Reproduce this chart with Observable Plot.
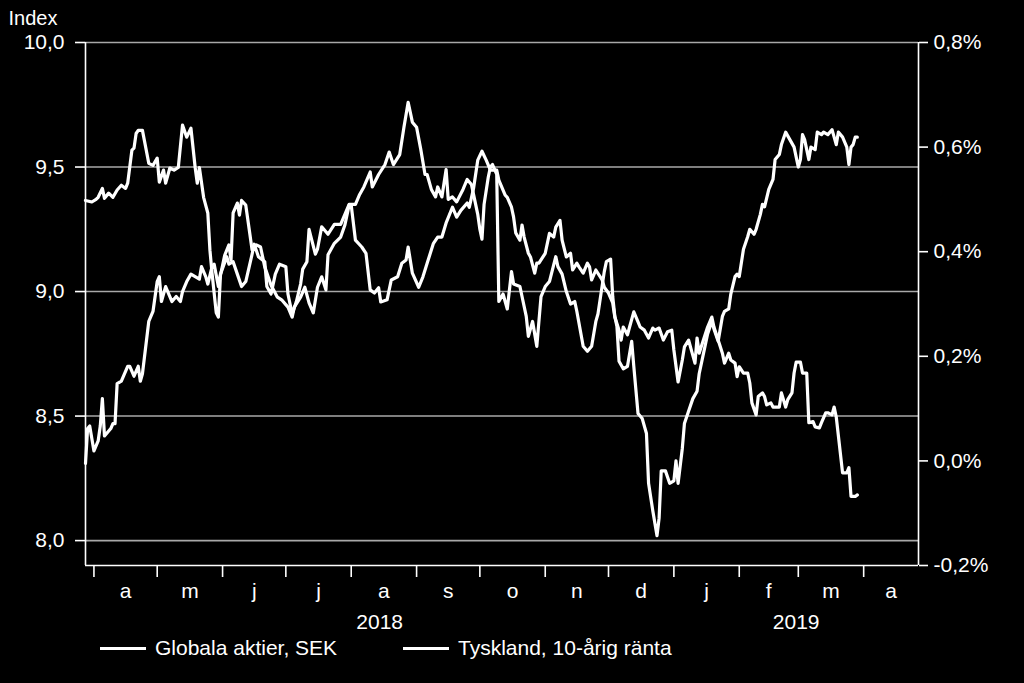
<!DOCTYPE html>
<html><head><meta charset="utf-8">
<script src="https://cdn.jsdelivr.net/npm/d3@7"></script>
<script src="https://cdn.jsdelivr.net/npm/@observablehq/plot@0.6"></script>
<style>
html,body{margin:0;padding:0;background:#000;}
body{width:1024px;height:683px;overflow:hidden;font-family:"Liberation Sans",Arial,sans-serif;color:#fff;}
#chart{position:relative;width:1024px;height:635px;}
#legend{position:relative;width:1024px;height:48px;}
.item{position:absolute;top:0;height:26px;display:flex;align-items:center;font-size:21px;white-space:nowrap;}
.swatch{display:inline-block;width:46px;height:3px;background:#fff;margin-right:9px;}
</style></head><body>
<div id="chart"></div>
<div id="legend"></div>
<script>
// ---- data ----
const seriesNames = ["Globala aktier, SEK", "Tyskland, 10-årig ränta"];
const leftTicks = [8.0, 8.5, 9.0, 9.5, 10.0];
const rightTicks = [-0.2, 0.0, 0.2, 0.4, 0.6, 0.8];
const monthTicks = ["2018-04-01","2018-05-01","2018-06-01","2018-07-01","2018-08-01","2018-09-01","2018-10-01","2018-11-01","2018-12-01","2019-01-01","2019-02-01","2019-03-01","2019-04-01"];
const monthLabels = ["a","m","j","j","a","s","o","n","d","j","f","m","a"];
const yearStarts = ["2018-03-28","2019-01-01"];
const yearLabels = ["2018","2019"];
const xStart = "2018-03-28", xEnd = "2019-04-27";

const eqDates = ["2018-03-28","2018-03-29","2018-03-30","2018-04-01","2018-04-03","2018-04-04","2018-04-05","2018-04-06","2018-04-09","2018-04-10","2018-04-11","2018-04-12","2018-04-14","2018-04-17","2018-04-18","2018-04-20","2018-04-22","2018-04-23","2018-04-24","2018-04-27","2018-04-29","2018-05-01","2018-05-02","2018-05-03","2018-05-05","2018-05-07","2018-05-08","2018-05-10","2018-05-12","2018-05-13","2018-05-15","2018-05-17","2018-05-19","2018-05-21","2018-05-22","2018-05-24","2018-05-25","2018-05-27","2018-05-28","2018-05-30","2018-05-31","2018-06-03","2018-06-04","2018-06-06","2018-06-08","2018-06-10","2018-06-12","2018-06-15","2018-06-16","2018-06-18","2018-06-21","2018-06-22","2018-06-24","2018-06-26","2018-06-28","2018-07-01","2018-07-02","2018-07-03","2018-07-04","2018-07-06","2018-07-08","2018-07-09","2018-07-11","2018-07-12","2018-07-15","2018-07-16","2018-07-18","2018-07-21","2018-07-24","2018-07-27","2018-07-29","2018-07-31","2018-08-03","2018-08-05","2018-08-07","2018-08-10","2018-08-11","2018-08-14","2018-08-17","2018-08-19","2018-08-21","2018-08-24","2018-08-26","2018-08-28","2018-08-30","2018-09-01","2018-09-03","2018-09-05","2018-09-06","2018-09-08","2018-09-10","2018-09-11","2018-09-13","2018-09-15","2018-09-16","2018-09-18","2018-09-20","2018-09-23","2018-09-25","2018-09-27","2018-09-28","2018-09-30","2018-10-01","2018-10-02","2018-10-03","2018-10-05","2018-10-06","2018-10-07","2018-10-09","2018-10-10","2018-10-12","2018-10-14","2018-10-16","2018-10-17","2018-10-20","2018-10-21","2018-10-23","2018-10-24","2018-10-26","2018-10-27","2018-10-28","2018-10-30","2018-11-01","2018-11-03","2018-11-06","2018-11-07","2018-11-09","2018-11-11","2018-11-13","2018-11-15","2018-11-16","2018-11-19","2018-11-21","2018-11-23","2018-11-25","2018-11-26","2018-11-29","2018-11-30","2018-12-02","2018-12-03","2018-12-04","2018-12-05","2018-12-06","2018-12-08","2018-12-10","2018-12-12","2018-12-13","2018-12-15","2018-12-17","2018-12-19","2018-12-20","2018-12-22","2018-12-24","2018-12-25","2018-12-26","2018-12-28","2018-12-30","2019-01-01","2019-01-02","2019-01-03","2019-01-05","2019-01-06","2019-01-08","2019-01-10","2019-01-12","2019-01-13","2019-01-15","2019-01-17","2019-01-19","2019-01-20","2019-01-22","2019-01-24","2019-01-25","2019-01-27","2019-01-28","2019-01-30","2019-01-31","2019-02-01","2019-02-03","2019-02-05","2019-02-06","2019-02-08","2019-02-09","2019-02-11","2019-02-12","2019-02-13","2019-02-15","2019-02-17","2019-02-18","2019-02-20","2019-02-21","2019-02-23","2019-02-25","2019-02-27","2019-03-01","2019-03-02","2019-03-03","2019-03-04","2019-03-06","2019-03-07","2019-03-09","2019-03-10","2019-03-12","2019-03-13","2019-03-15","2019-03-17","2019-03-18","2019-03-19","2019-03-20","2019-03-22","2019-03-24","2019-03-25","2019-03-26","2019-03-27","2019-03-28","2019-03-29"];
const eqValues = [8.31,8.45,8.46,8.36,8.40,8.46,8.57,8.42,8.45,8.47,8.47,8.63,8.64,8.70,8.70,8.66,8.70,8.64,8.67,8.88,8.92,9.04,9.06,8.96,9.02,8.98,8.96,8.98,8.96,9.00,9.04,9.07,9.06,9.05,9.10,9.06,9.03,9.10,9.11,9.02,9.07,9.14,9.11,9.12,9.07,9.02,9.04,9.15,9.19,9.14,9.12,9.02,8.99,9.07,9.11,9.10,8.99,8.95,8.91,8.96,9.03,9.09,9.12,9.25,9.15,9.17,9.26,9.23,9.27,9.27,9.31,9.35,9.35,9.39,9.42,9.48,9.42,9.47,9.51,9.56,9.51,9.55,9.66,9.76,9.68,9.66,9.57,9.47,9.47,9.41,9.38,9.42,9.38,9.49,9.37,9.38,9.36,9.41,9.45,9.43,9.39,9.31,9.25,9.21,9.35,9.46,9.50,9.51,9.47,8.96,8.99,8.93,9.08,9.03,9.02,8.98,8.90,8.82,8.88,8.83,8.78,8.98,9.02,9.04,9.14,9.10,9.07,9.00,8.95,8.96,8.92,8.78,8.76,8.78,8.88,8.91,9.08,9.12,9.13,8.98,8.90,8.86,8.72,8.69,8.70,8.80,8.70,8.51,8.49,8.43,8.23,8.12,8.02,8.09,8.28,8.28,8.23,8.24,8.32,8.23,8.37,8.47,8.52,8.57,8.60,8.67,8.75,8.83,8.88,8.85,8.80,8.90,8.92,8.93,8.99,9.06,9.07,9.06,9.17,9.22,9.25,9.23,9.25,9.31,9.35,9.34,9.41,9.45,9.53,9.55,9.59,9.64,9.61,9.58,9.50,9.53,9.63,9.61,9.53,9.58,9.57,9.64,9.63,9.64,9.63,9.65,9.62,9.59,9.64,9.62,9.58,9.51,9.58,9.59,9.62,9.62];

const bundDates = ["2018-03-28","2018-03-31","2018-04-02","2018-04-03","2018-04-05","2018-04-06","2018-04-08","2018-04-10","2018-04-12","2018-04-14","2018-04-16","2018-04-17","2018-04-19","2018-04-20","2018-04-21","2018-04-22","2018-04-24","2018-04-27","2018-04-29","2018-05-01","2018-05-02","2018-05-04","2018-05-05","2018-05-07","2018-05-09","2018-05-11","2018-05-13","2018-05-15","2018-05-17","2018-05-19","2018-05-20","2018-05-21","2018-05-23","2018-05-25","2018-05-26","2018-05-27","2018-05-29","2018-05-30","2018-05-31","2018-06-02","2018-06-04","2018-06-05","2018-06-06","2018-06-08","2018-06-09","2018-06-10","2018-06-12","2018-06-14","2018-06-15","2018-06-17","2018-06-19","2018-06-21","2018-06-24","2018-06-27","2018-06-29","2018-07-02","2018-07-04","2018-07-05","2018-07-08","2018-07-10","2018-07-12","2018-07-14","2018-07-16","2018-07-18","2018-07-20","2018-07-21","2018-07-24","2018-07-27","2018-07-29","2018-07-31","2018-08-01","2018-08-03","2018-08-06","2018-08-08","2018-08-10","2018-08-12","2018-08-14","2018-08-15","2018-08-18","2018-08-19","2018-08-20","2018-08-23","2018-08-25","2018-08-27","2018-08-28","2018-08-30","2018-09-02","2018-09-04","2018-09-06","2018-09-09","2018-09-11","2018-09-13","2018-09-15","2018-09-18","2018-09-20","2018-09-22","2018-09-25","2018-09-26","2018-09-28","2018-09-30","2018-10-02","2018-10-04","2018-10-06","2018-10-09","2018-10-10","2018-10-13","2018-10-14","2018-10-16","2018-10-17","2018-10-18","2018-10-20","2018-10-21","2018-10-22","2018-10-24","2018-10-25","2018-10-27","2018-10-28","2018-10-29","2018-11-01","2018-11-03","2018-11-05","2018-11-06","2018-11-08","2018-11-09","2018-11-11","2018-11-13","2018-11-14","2018-11-16","2018-11-17","2018-11-19","2018-11-21","2018-11-22","2018-11-23","2018-11-25","2018-11-28","2018-11-29","2018-12-01","2018-12-03","2018-12-04","2018-12-06","2018-12-07","2018-12-08","2018-12-10","2018-12-11","2018-12-13","2018-12-15","2018-12-16","2018-12-18","2018-12-20","2018-12-22","2018-12-23","2018-12-25","2018-12-27","2018-12-29","2018-12-31","2019-01-01","2019-01-03","2019-01-05","2019-01-06","2019-01-08","2019-01-09","2019-01-11","2019-01-12","2019-01-13","2019-01-15","2019-01-17","2019-01-19","2019-01-20","2019-01-22","2019-01-24","2019-01-25","2019-01-27","2019-01-28","2019-01-30","2019-01-31","2019-02-01","2019-02-03","2019-02-05","2019-02-06","2019-02-07","2019-02-09","2019-02-10","2019-02-12","2019-02-13","2019-02-14","2019-02-16","2019-02-17","2019-02-19","2019-02-20","2019-02-21","2019-02-23","2019-02-24","2019-02-26","2019-02-27","2019-02-28","2019-03-02","2019-03-03","2019-03-05","2019-03-06","2019-03-08","2019-03-09","2019-03-11","2019-03-12","2019-03-14","2019-03-15","2019-03-17","2019-03-18","2019-03-19","2019-03-22","2019-03-24","2019-03-25","2019-03-26","2019-03-28","2019-03-29"];
const bundValues = [0.498,0.495,0.500,0.504,0.521,0.502,0.512,0.504,0.518,0.527,0.521,0.531,0.594,0.598,0.626,0.632,0.632,0.569,0.565,0.579,0.533,0.556,0.531,0.560,0.556,0.561,0.642,0.619,0.636,0.561,0.531,0.561,0.504,0.474,0.403,0.359,0.283,0.275,0.355,0.393,0.413,0.384,0.474,0.493,0.470,0.498,0.489,0.432,0.403,0.413,0.409,0.371,0.336,0.313,0.308,0.294,0.275,0.294,0.313,0.332,0.302,0.283,0.332,0.352,0.327,0.394,0.416,0.428,0.451,0.489,0.489,0.422,0.409,0.397,0.327,0.321,0.331,0.304,0.308,0.327,0.346,0.352,0.378,0.384,0.409,0.359,0.332,0.352,0.378,0.416,0.428,0.428,0.455,0.485,0.466,0.479,0.493,0.485,0.521,0.575,0.592,0.575,0.556,0.556,0.537,0.508,0.504,0.485,0.466,0.436,0.422,0.451,0.428,0.397,0.390,0.359,0.378,0.378,0.397,0.435,0.428,0.447,0.460,0.422,0.390,0.397,0.365,0.378,0.371,0.359,0.378,0.371,0.346,0.365,0.346,0.332,0.321,0.302,0.275,0.250,0.231,0.256,0.241,0.256,0.285,0.266,0.256,0.250,0.235,0.254,0.250,0.254,0.231,0.247,0.250,0.212,0.151,0.193,0.218,0.231,0.216,0.187,0.235,0.206,0.231,0.256,0.275,0.256,0.231,0.206,0.187,0.206,0.193,0.187,0.161,0.180,0.168,0.168,0.149,0.111,0.088,0.123,0.130,0.123,0.107,0.111,0.103,0.103,0.103,0.130,0.103,0.117,0.130,0.168,0.189,0.189,0.168,0.168,0.073,0.075,0.065,0.063,0.073,0.092,0.092,0.088,0.103,0.084,-0.023,-0.023,-0.013,-0.068,-0.068,-0.065];

// ---- scales / derived ----
const parse = d3.utcParse("%Y-%m-%d");
const leftDomain = [7.9, 10];
const rightDomain = [-0.2, 0.8];
const toLeft = d3.scaleLinear(rightDomain, leftDomain);
const xDomain = [parse(xStart), parse(xEnd)];
const tickDates = monthTicks.map(parse);
const tickEnds = tickDates.slice(1).concat([xDomain[1]]);
const monthMids = tickDates.map((t, i) => new Date((+t + +tickEnds[i]) / 2));
const yStartDates = yearStarts.map(parse);
const yEnds = yStartDates.slice(1).concat([xDomain[1]]);
const yearMids = yStartDates.map((t, i) => new Date((+t + +yEnds[i]) / 2));

const eq = eqDates.map((d, i) => ({date: parse(d), value: eqValues[i]}));
const bund = bundDates.map((d, i) => ({date: parse(d), value: toLeft(bundValues[i])}));

const fmtLeft = d => d.toFixed(1).replace(".", ",");
const fmtRight = d => {
  const v = Math.round(toLeft.invert(d) * 10) / 10;
  return (v === 0 ? 0 : v).toFixed(1).replace(".", ",") + "%";
};

const chart = Plot.plot({
  width: 1024,
  height: 635,
  marginLeft: 85,
  marginRight: 106,
  marginTop: 42,
  marginBottom: 70,
  style: {background: "#000", color: "#fff", fontFamily: "Liberation Sans, Arial, sans-serif", fontSize: "21px", overflow: "visible"},
  x: {type: "utc", domain: xDomain, label: null},
  y: {domain: leftDomain, label: null},
  marks: [
    Plot.ruleY(leftTicks, {stroke: "#a8a8a8", strokeWidth: 1.6}),
    Plot.ruleX(xDomain, {stroke: "#fff", strokeWidth: 1.6}),
    Plot.ruleY([leftDomain[0]], {stroke: "#fff", strokeWidth: 1.6}),
    Plot.axisY({ticks: leftTicks, anchor: "left", tickFormat: fmtLeft, tickSize: 10, tickPadding: 11, label: null, strokeWidth: 1.6, fontSize: 21}),
    Plot.axisY({ticks: rightTicks.map(toLeft), anchor: "right", tickFormat: fmtRight, tickSize: 9, tickPadding: 6, label: null, strokeWidth: 1.6, fontSize: 21}),
    Plot.axisX({ticks: tickDates, anchor: "bottom", tickFormat: () => "", tickSize: 12, label: null, strokeWidth: 1.6}),
    Plot.text(monthLabels, {x: monthMids, text: d => d, frameAnchor: "bottom", lineAnchor: "middle", dy: 26, fontSize: 21}),
    Plot.text(yearLabels, {x: yearMids, text: d => d, frameAnchor: "bottom", lineAnchor: "middle", dy: 57, fontSize: 21}),
    Plot.text(["Index"], {text: d => d, frameAnchor: "top-left", lineAnchor: "middle", dx: -77, dy: -24, textAnchor: "start", fontSize: 20}),
    Plot.line(eq, {x: "date", y: "value", stroke: "#fff", strokeWidth: 3.2, strokeLinejoin: "round"}),
    Plot.line(bund, {x: "date", y: "value", stroke: "#fff", strokeWidth: 3.2, strokeLinejoin: "round"})
  ]
});
document.getElementById("chart").appendChild(chart);

const legend = document.getElementById("legend");
const legendLeft = [100, 403];
seriesNames.forEach((name, i) => {
  const item = document.createElement("div");
  item.className = "item";
  item.style.left = legendLeft[i] + "px";
  item.innerHTML = '<span class="swatch"></span><span></span>';
  item.lastChild.textContent = name;
  legend.appendChild(item);
});
</script></body></html>
